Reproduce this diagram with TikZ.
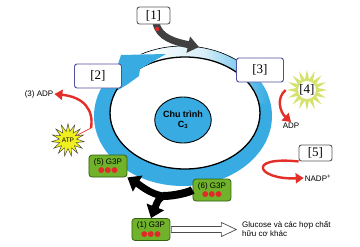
\documentclass[tikz,border=0pt]{standalone}
\usepackage{fontspec}
\setmainfont{Liberation Serif}
\setsansfont{Liberation Sans}
\newfontfamily\dotfont{DejaVu Sans}
\usetikzlibrary{shapes.geometric, arrows.meta, calc}

\definecolor{ringblue}{RGB}{56,172,226}
\definecolor{leafgreen}{RGB}{112,178,42}
\definecolor{leafedge}{RGB}{52,96,20}
\definecolor{dotred}{RGB}{226,40,40}
\definecolor{arrowred}{RGB}{228,46,40}
\definecolor{boxedge}{RGB}{80,80,160}
\definecolor{sunyellow}{RGB}{240,240,30}
\definecolor{spikegreen}{RGB}{214,226,110}

\newcommand{\tridots}{{\dotfont\fontsize{7.5}{6}\selectfont\textcolor{dotred}{●●●}}}

\tikzset{
  numbox/.style={draw=boxedge, fill=white, rounded corners=2.5pt, line width=0.9pt,
    font=\fontsize{13}{13}\selectfont, minimum width=47pt, minimum height=24pt, inner sep=0pt},
  graybox/.style={numbox, draw=black!65},
  g3p/.style={draw=leafedge, fill=leafgreen, rounded corners=3pt, line width=0.8pt,
    minimum width=38pt, minimum height=22pt, inner sep=0pt, align=center,
    font=\sffamily\fontsize{8}{8.5}\selectfont},
  redarrow/.style={arrowred, line width=2.4pt, -{Triangle[length=8pt,width=10pt]}},
  blackarrow/.style={black, line width=7pt, -{Triangle[length=12pt,width=18pt]}},
  lbl/.style={font=\sffamily\fontsize{8}{9.5}\selectfont, inner sep=1pt}
}

\begin{document}
\begin{tikzpicture}[x=1pt,y=-1pt]
  \useasboundingbox (0,0) rectangle (360,247);

  \fill[ringblue, even odd rule] (183,116) ellipse (89 and 70) (185,113) ellipse (75 and 56);
  \begin{scope}[even odd rule]
    \clip (183,116) ellipse (89 and 70) (185,113) ellipse (75 and 56);
    \shade[left color=white, right color=ringblue, middle color=ringblue!20]
      (140,30) -- (268,30) -- (268,105) -- (140,72) -- cycle;
  \end{scope}
  \draw[line width=0.6pt] (183,116) ++(-118:89 and 70) arc (-118:-45:89 and 70);
  \draw[line width=1.3pt] (185,113) ellipse (75 and 56);
  \fill[ringblue] (121,55) -- (166,54) -- (140,69) -- (139,76) -- (128,84) -- (118,90) -- (116,70) -- cycle;

  \node[ellipse, draw, line width=0.9pt, fill=ringblue, minimum width=48pt, minimum height=46pt,
    inner sep=0pt, align=center, font=\sffamily\bfseries\fontsize{9}{10}\selectfont]
    (calvin) at (183,120) {Chu trình\\C\textsubscript{3}};

  \coordinate (ringtop) at (199,47);
  \draw[line width=7pt, draw=black!75, -{Triangle[length=11pt,width=16pt]}]
    (156,22) .. controls (158,38) and (176,42) .. (ringtop);
  \fill[dotred] (157,29) circle (2.2);

  \node[graybox, minimum width=33pt, minimum height=17pt] (n1) at (153.5,15.5) {[1]};
  \node[numbox] (n2) at (98,76) {[2]};
  \node[numbox] (n3) at (260,70) {[3]};
  \node[star, star points=16, star point ratio=1.9, minimum size=34pt, fill=spikegreen,
    inner sep=0pt, font=\fontsize{13}{13}\selectfont,
    path picture={\fill[white] (path picture bounding box.center) circle (9pt);}]
    (n4) at (307,90) {[4]};
  \node[graybox, minimum width=33pt, minimum height=16pt] (n5) at (315.5,153) {[5]};

  \node[star, star points=15, star point ratio=1.9, minimum size=30pt, fill=sunyellow,
    draw=black!80, line width=0.4pt, inner sep=0pt, font=\sffamily\fontsize{6.5}{7}\selectfont]
    (atp) at (68,140) {ATP};

  \node[lbl] (adp3) at (39,94) {(3) ADP};
  \node[lbl] (adp) at (291,126) {ADP};
  \node[lbl] (nadp) at (318,178) {NADP\textsuperscript{+}};
  \node[lbl, align=left, anchor=west] (gluc) at (241,229) {Glucose và các hợp chất\\hữu cơ khác};

  \coordinate (atpfoot) at (91,128);
  \draw[arrowred, line width=0.7pt] (atp) -- (atpfoot);
  \draw[redarrow] (atpfoot) .. controls (94,110) and (84,97) .. (adp3.east);
  \draw[redarrow] (n4.west) .. controls (276,98) and (280,112) .. (adp.north);
  \draw[redarrow] (n5.south west) .. controls (245,156) and (258,180) .. (nadp.west);

  \node[g3p] (g36) at (212,190) {(6) G3P\\\tridots};
  \node[g3p] (g35) at (108,166) {(5) G3P\\\tridots};
  \node[g3p] (g31) at (151,229.5) {(1) G3P\\\tridots};

  \coordinate (fork) at (163,196);
  \draw[black, line width=8pt] (g36.west) .. controls (190,192) and (175,196) .. (fork);
  \draw[blackarrow] (fork) .. controls (150,194) and (140,185) .. (g35.south east);
  \draw[blackarrow] (fork) .. controls (158,200) .. (g31.north);

  \draw[fill=white, draw=black!70, line width=0.7pt] (g31.east) ++(1,-3) -- ++(50,0) -- ++(0,-4)
    -- ++(15,7) -- ++(-15,7) -- ++(0,-4) -- ++(-50,0) -- cycle;
\end{tikzpicture}
\end{document}
